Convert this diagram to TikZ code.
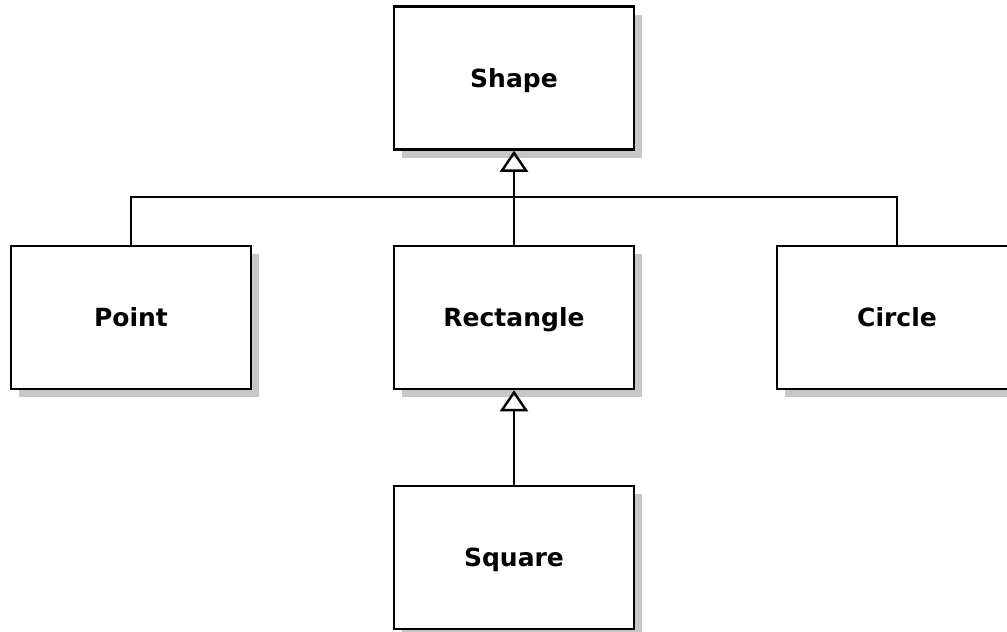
\documentclass[tikz,border=0pt]{standalone}
\usepackage{fontspec}
\setmainfont{DejaVu Sans}
\usetikzlibrary{arrows.meta,shadows}
\begin{document}
\begin{tikzpicture}[x=1pt,y=-1pt,
  cls/.style={draw=black, line width=2.5pt, fill=white, minimum width=240pt, minimum height=143pt,
    inner sep=0pt, text height=18pt, text depth=0pt, font=\fontsize{25}{30}\selectfont\bfseries,
    drop shadow={shadow xshift=8pt, shadow yshift=-8pt, fill=black!22, opacity=1}},
  conn/.style={line width=2.4pt},
  inherit/.style={conn, -{Triangle[open, width=28pt, length=21pt, line width=2.4pt]}}]
\clip (0,0) rectangle (1007,632);
\fill[white] (0,0) rectangle (1007,632);
\node[cls] (shape) at (514,78) {Shape};
\node[cls] (point) at (131,317.5) {Point};
\node[cls] (rect) at (514,317.5) {Rectangle};
\node[cls] (circle) at (897,317.5) {Circle};
\node[cls] (square) at (514,557.5) {Square};
\coordinate (bus) at (514,197);
\draw[conn] (point.north) |- (bus);
\draw[conn] (circle.north) |- (bus);
\draw[inherit] (rect.north) -- (shape.south);
\draw[inherit] (square.north) -- (rect.south);
\end{tikzpicture}
\end{document}
